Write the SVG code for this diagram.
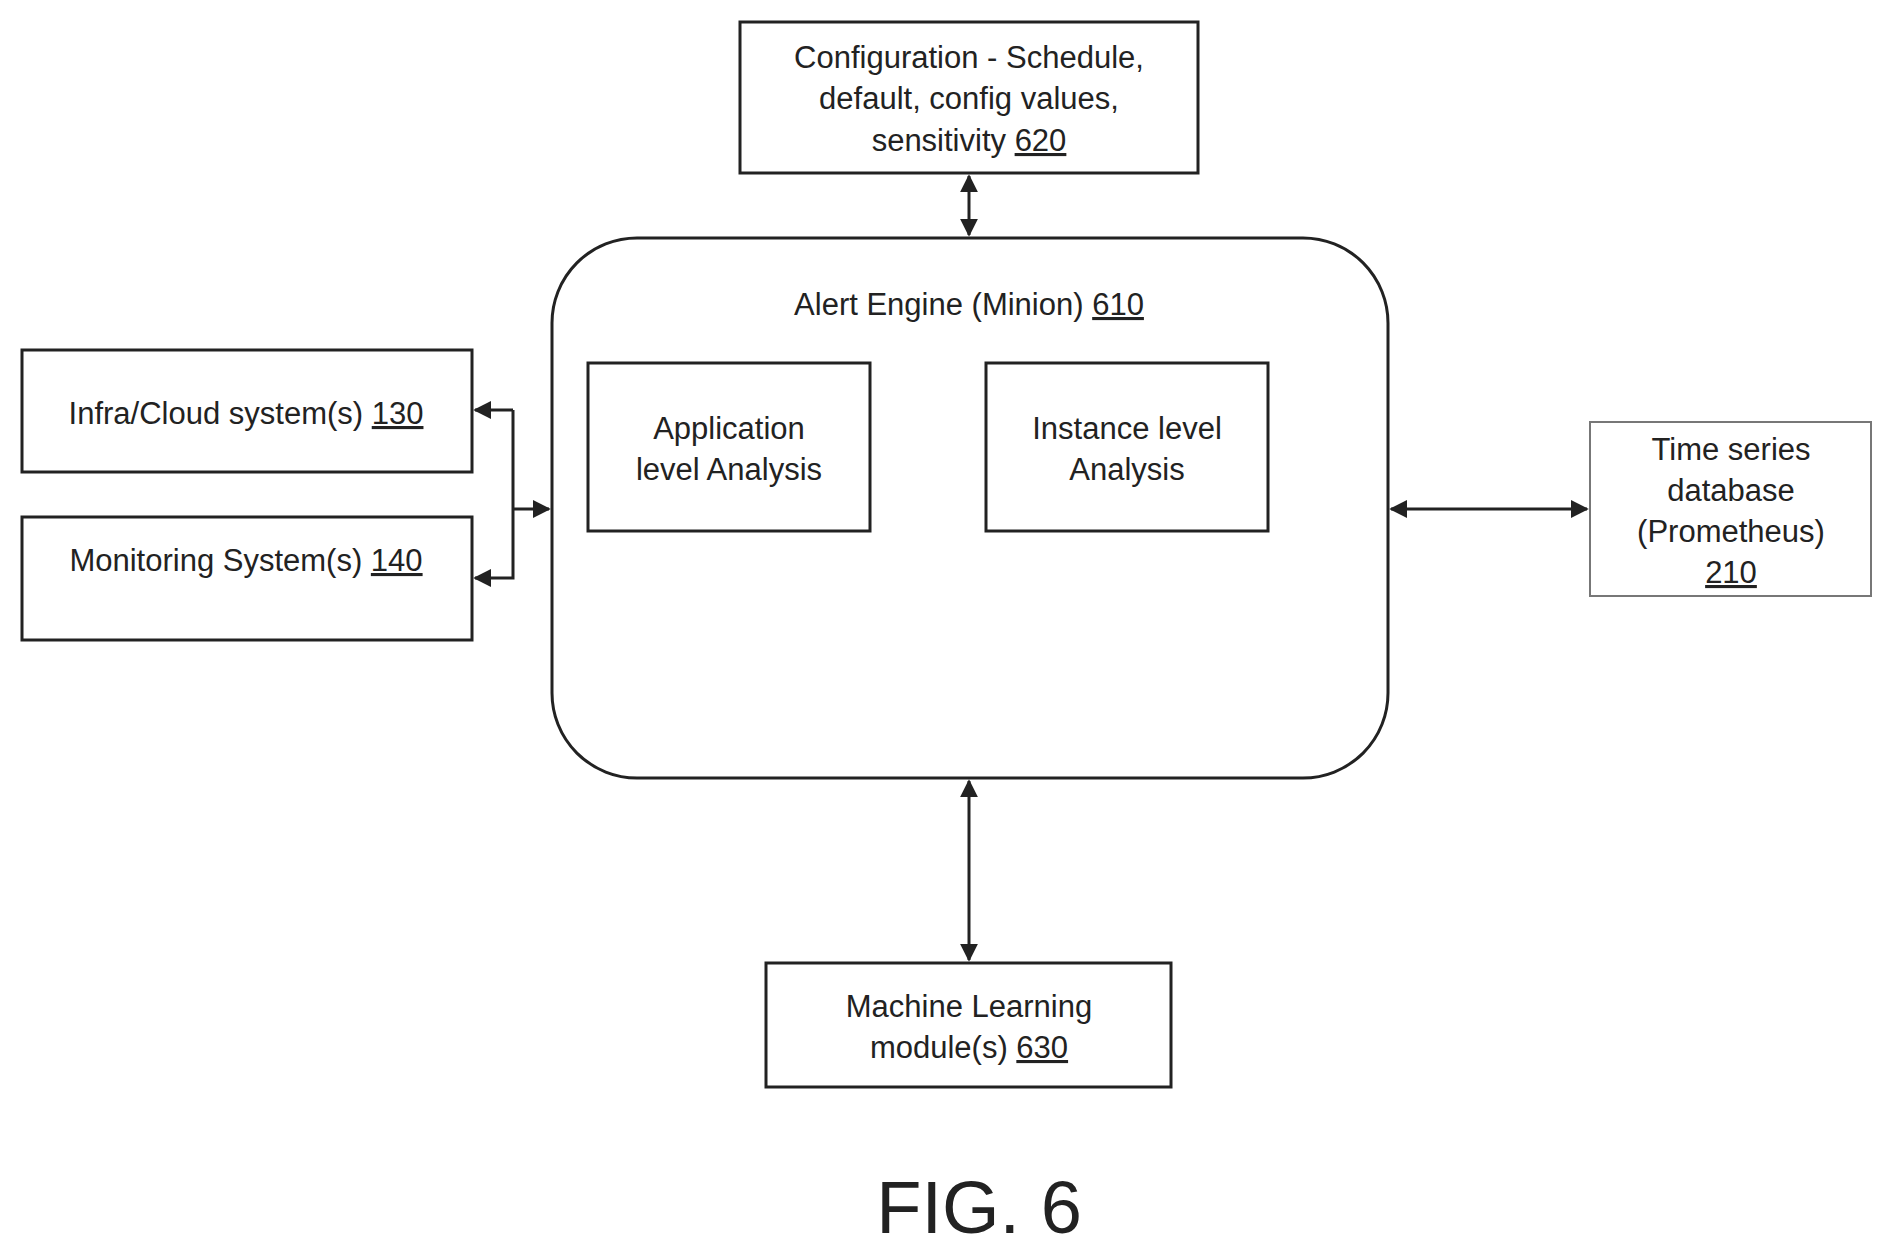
<svg xmlns="http://www.w3.org/2000/svg" width="1892" height="1256" viewBox="0 0 1892 1256">
<style>
.b{fill:#fff;stroke:#222;stroke-width:3}
.t{font-family:"Liberation Sans",Arial,sans-serif;font-size:31px;fill:#222;text-anchor:middle}
.u{text-decoration:underline}
.c{fill:none;stroke:#222;stroke-width:3}
</style>
<defs>
<marker id="a" viewBox="0 0 10 10" refX="9" refY="5" markerWidth="6" markerHeight="6" orient="auto-start-reverse"><path d="M0,0L10,5L0,10z" fill="#222"/></marker>
</defs>
<rect width="1892" height="1256" fill="#fff"/>
<g id="connectors">
<line class="c" x1="969" y1="176" x2="969" y2="235" marker-start="url(#a)" marker-end="url(#a)"/>
<line class="c" x1="969" y1="781" x2="969" y2="960" marker-start="url(#a)" marker-end="url(#a)"/>
<line class="c" x1="1391" y1="509" x2="1587" y2="509" marker-start="url(#a)" marker-end="url(#a)"/>
<polyline class="c" points="513,410 475,410" marker-end="url(#a)"/>
<polyline class="c" points="513,410 513,578 475,578" marker-end="url(#a)"/>
<line class="c" x1="513" y1="509" x2="549" y2="509" marker-end="url(#a)"/>
</g>
<g id="config"><rect class="b" x="740" y="22" width="458" height="151"/>
<text class="t" x="969" y="68">Configuration - Schedule,</text>
<text class="t" x="969" y="109">default, config values,</text>
<text class="t" x="969" y="151">sensitivity <tspan class="u">620</tspan></text></g>
<g id="alert"><rect class="b" x="552" y="238" width="836" height="540" rx="85"/>
<text class="t" x="969" y="315">Alert Engine (Minion) <tspan class="u">610</tspan></text></g>
<g id="app"><rect class="b" x="588" y="363" width="282" height="168"/>
<text class="t" x="729" y="439">Application</text>
<text class="t" x="729" y="480">level Analysis</text></g>
<g id="inst"><rect class="b" x="986" y="363" width="282" height="168"/>
<text class="t" x="1127" y="439">Instance level</text>
<text class="t" x="1127" y="480">Analysis</text></g>
<g id="infra"><rect class="b" x="22" y="350" width="450" height="122"/>
<text class="t" x="246" y="424">Infra/Cloud system(s) <tspan class="u">130</tspan></text></g>
<g id="mon"><rect class="b" x="22" y="517" width="450" height="123"/>
<text class="t" x="246" y="571">Monitoring System(s) <tspan class="u">140</tspan></text></g>
<g id="tsdb"><rect x="1590" y="422" width="281" height="174" fill="#fff" stroke="#777" stroke-width="2"/>
<text class="t" x="1731" y="460">Time series</text>
<text class="t" x="1731" y="501">database</text>
<text class="t" x="1731" y="542">(Prometheus)</text>
<text class="t u" x="1731" y="583">210</text></g>
<g id="ml"><rect class="b" x="766" y="963" width="405" height="124"/>
<text class="t" x="969" y="1017">Machine Learning</text>
<text class="t" x="969" y="1058">module(s) <tspan class="u">630</tspan></text></g>
<text class="t" x="979" y="1233" style="font-size:74px">FIG. 6</text>
</svg>
